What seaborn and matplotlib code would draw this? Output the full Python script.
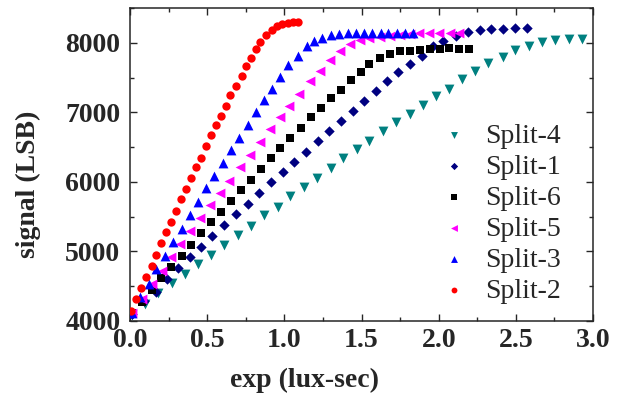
import matplotlib
matplotlib.use("Agg")
import matplotlib.pyplot as plt
import seaborn as sns
from matplotlib.ticker import MultipleLocator

# Split-4 (teal, down triangles)
x_split4 = [0.013, 0.097, 0.184, 0.270, 0.356, 0.439, 0.525, 0.611, 0.698, 0.786, 0.870, 0.956,
            1.037, 1.128, 1.210, 1.301, 1.382, 1.473, 1.551, 1.638, 1.724, 1.811, 1.899, 1.983,
            2.069, 2.149, 2.236, 2.322, 2.415, 2.495, 2.582, 2.669, 2.755, 2.841, 2.927]
y_split4 = [4090, 4245, 4399, 4543, 4672, 4816, 4950, 5094, 5238, 5367, 5525, 5645,
            5799, 5933, 6062, 6197, 6341, 6471, 6595, 6734, 6854, 6979, 7108, 7238,
            7339, 7483, 7588, 7709, 7790, 7900, 7947, 8005, 8034, 8058, 8058]

# Split-1 (navy, diamonds)
x_split1 = [0.016, 0.091, 0.166, 0.238, 0.309, 0.389, 0.460, 0.534, 0.609, 0.685, 0.763, 0.838,
            0.914, 0.990, 1.065, 1.141, 1.215, 1.290, 1.366, 1.444, 1.517, 1.592, 1.664, 1.739,
            1.815, 1.891, 1.962, 2.031, 2.113, 2.193, 2.268, 2.340, 2.419, 2.495, 2.571]
y_split1 = [4100, 4290, 4422, 4600, 4767, 4917, 5069, 5223, 5381, 5535, 5684, 5840,
            5993, 6140, 6292, 6436, 6595, 6738, 6878, 7022, 7166, 7310, 7444, 7573,
            7698, 7817, 7947, 8019, 8101, 8149, 8188, 8198, 8198, 8213, 8213]

# Split-6 (black, squares)
x_split6 = [0.010, 0.075, 0.141, 0.201, 0.266, 0.335, 0.395, 0.460, 0.525, 0.590, 0.655, 0.719,
            0.784, 0.847, 0.912, 0.972, 1.037, 1.106, 1.173, 1.238, 1.303, 1.367, 1.432, 1.497,
            1.551, 1.620, 1.685, 1.750, 1.815, 1.879, 1.944, 2.009, 2.069, 2.134, 2.199]
y_split6 = [4110, 4280, 4446, 4623, 4781, 4935, 5098, 5262, 5420, 5573, 5727, 5885,
            6034, 6187, 6341, 6494, 6629, 6773, 6931, 7069, 7205, 7324, 7468, 7578,
            7698, 7780, 7838, 7875, 7885, 7900, 7910, 7910, 7922, 7910, 7910]

# Split-5 (magenta, left triangles)
x_split5 = [0.011, 0.076, 0.141, 0.206, 0.264, 0.326, 0.389, 0.454, 0.519, 0.583, 0.644, 0.713,
            0.778, 0.843, 0.907, 0.972, 1.033, 1.097, 1.166, 1.231, 1.296, 1.361, 1.426, 1.491,
            1.551, 1.620, 1.685, 1.750, 1.815, 1.875, 1.940, 2.005, 2.070, 2.132]
y_split5 = [4120, 4320, 4525, 4724, 4917, 5104, 5295, 5487, 5669, 5846, 6015, 6220,
            6389, 6580, 6763, 6926, 7094, 7262, 7444, 7588, 7746, 7876, 7982, 8034,
            8068, 8082, 8101, 8115, 8125, 8140, 8140, 8140, 8140, 8140]

# Split-3 (blue, up triangles)
x_split3 = [0.015, 0.065, 0.123, 0.170, 0.227, 0.281, 0.335, 0.391, 0.439, 0.493, 0.546, 0.601,
            0.655, 0.708, 0.763, 0.817, 0.870, 0.918, 0.972, 1.026, 1.087, 1.145, 1.192, 1.246,
            1.301, 1.356, 1.411, 1.465, 1.518, 1.570, 1.625, 1.674, 1.728, 1.782, 1.836]
y_split3 = [4120, 4350, 4532, 4744, 4935, 5132, 5324, 5530, 5712, 5905, 6091, 6269,
            6461, 6638, 6821, 6998, 7181, 7339, 7507, 7684, 7813, 7950, 8019, 8068,
            8115, 8130, 8140, 8140, 8140, 8140, 8140, 8140, 8140, 8140, 8140]

# Split-2 (red, circles)
x_split2 = [0.005, 0.039, 0.071, 0.104, 0.141, 0.168, 0.203, 0.235, 0.266, 0.298, 0.331, 0.361,
            0.393, 0.428, 0.460, 0.493, 0.525, 0.555, 0.588, 0.620, 0.650, 0.687, 0.724, 0.750,
            0.784, 0.817, 0.843, 0.879, 0.918, 0.955, 0.987, 1.026, 1.058, 1.091]
y_split2 = [4150, 4321, 4470, 4629, 4791, 4954, 5118, 5281, 5429, 5587, 5751, 5904,
            6053, 6220, 6350, 6518, 6677, 6816, 6950, 7094, 7248, 7382, 7526, 7660,
            7775, 7910, 8015, 8115, 8188, 8245, 8274, 8284, 8293, 8293]

series = [
    ("Split-4", x_split4, y_split4, "v", "#008080", 50),
    ("Split-1", x_split1, y_split1, "D", "#000080", 28),
    ("Split-6", x_split6, y_split6, "s", "#000000", 30),
    ("Split-5", x_split5, y_split5, "<", "#FF00FF", 50),
    ("Split-3", x_split3, y_split3, "^", "#0000FF", 50),
    ("Split-2", x_split2, y_split2, "o", "#FF0000", 36),
]

sns.set_style("ticks")
plt.rcParams["font.family"] = ["Liberation Serif", "DejaVu Serif"]

fig = plt.figure(figsize=(6.21, 3.96), dpi=100)
ax = fig.add_axes([0.2093, 0.1894, 0.7457, 0.7904])

for name, xs, ys, mk, col, size in series:
    sns.scatterplot(x=xs, y=ys, marker=mk, color=col, s=size, linewidth=0,
                    label=name, ax=ax, zorder=3)

ax.set_xlim(0, 3.0)
ax.set_ylim(4000, 8500)
ax.xaxis.set_major_locator(MultipleLocator(0.5))
ax.xaxis.set_minor_locator(MultipleLocator(0.25))
ax.yaxis.set_major_locator(MultipleLocator(1000))
ax.yaxis.set_minor_locator(MultipleLocator(500))
ax.xaxis.set_major_formatter(plt.FormatStrFormatter("%.1f"))

ax.tick_params(which="both", direction="in", top=True, right=True, width=1.0)
ax.tick_params(which="major", length=5, labelsize=20)
ax.tick_params(axis="x", which="major", pad=5)
ax.tick_params(axis="y", which="major", pad=7)
ax.tick_params(which="minor", length=3)
for lab in ax.get_xticklabels() + ax.get_yticklabels():
    lab.set_fontweight("bold")
for sp in ax.spines.values():
    sp.set_linewidth(1.1)

ax.set_xlabel("exp (lux-sec)", fontsize=20, fontweight="bold", va="center", ha="center")
ax.set_ylabel("signal (LSB)", fontsize=20, fontweight="bold", va="center", ha="center")
ax.xaxis.set_label_coords(0.376, -0.19)
ax.yaxis.set_label_coords(-0.22, 0.438)

ax.legend(loc="lower right", frameon=False, fontsize=20, markerscale=0.7,
          handlelength=1.2, handletextpad=0.5, labelspacing=0.2,
          borderpad=0, borderaxespad=0, bbox_to_anchor=(0.93, 0.055))

fig.savefig("out.png", dpi=100)
